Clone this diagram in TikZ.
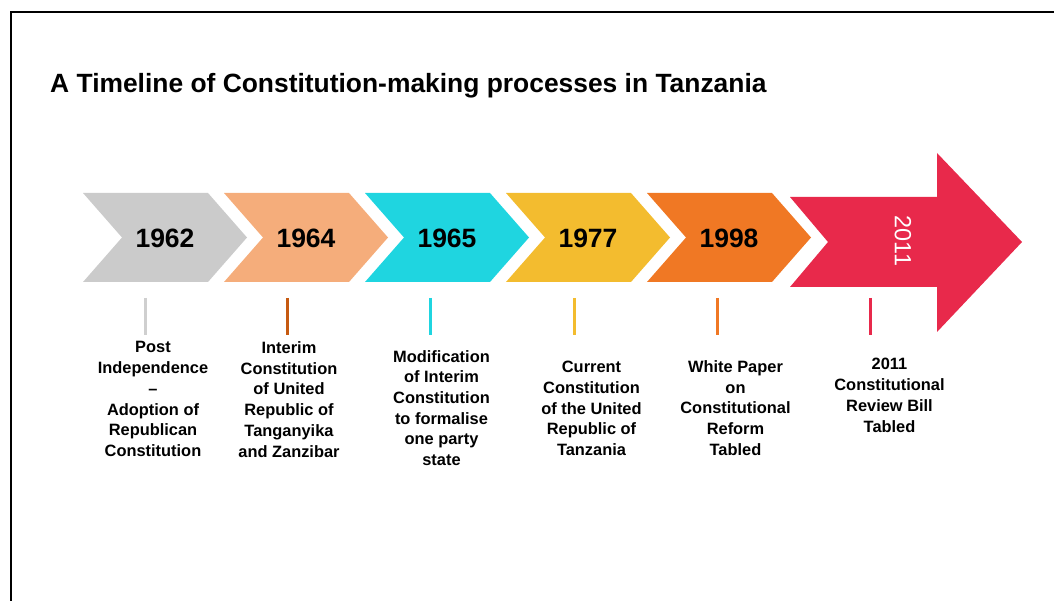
\documentclass[tikz,border=0pt]{standalone}
\usepackage{fontspec}
\setmainfont{Liberation Sans}
\definecolor{cgrey}{HTML}{CBCBCB}
\definecolor{cgreytick}{HTML}{CFCFCF}
\definecolor{cpeach}{HTML}{F5AD7B}
\definecolor{cpeachtick}{HTML}{C65A11}
\definecolor{ccyan}{HTML}{1FD5E0}
\definecolor{cyellow}{HTML}{F3BC2F}
\definecolor{corange}{HTML}{F07824}
\definecolor{cred}{HTML}{E8294B}
\begin{document}
\begin{tikzpicture}[x=1pt,y=-1pt,
    year/.style={inner sep=0pt, font=\bfseries\fontsize{26.5}{30}\selectfont},
    tick/.style={line width=3pt},
    event/.style={anchor=north, inner sep=0pt, align=center,
        font=\bfseries\fontsize{16.4}{20.7}\selectfont}]
        \useasboundingbox (0,0) rectangle (1054,601);

        % Frame
        \draw[line width=2pt] (11,601) -- (11,12) -- (1054,12);

        % Title
        \node[anchor=base west, inner sep=0pt, font=\bfseries\fontsize{26.4}{30}\selectfont]
            (title) at (50,93) {A Timeline of Constitution-making processes in Tanzania};

        % Chevrons
        \fill[cgrey] (83,193) -- ++(125,0) -- ++(39,44.5) -- ++(-39,44.5) -- ++(-125,0) -- ++(39,-44.5) -- cycle;
        \fill[cpeach] (224,193) -- ++(125,0) -- ++(39,44.5) -- ++(-39,44.5) -- ++(-125,0) -- ++(39,-44.5) -- cycle;
        \fill[ccyan] (365,193) -- ++(125,0) -- ++(39,44.5) -- ++(-39,44.5) -- ++(-125,0) -- ++(39,-44.5) -- cycle;
        \fill[cyellow] (506,193) -- ++(125,0) -- ++(39,44.5) -- ++(-39,44.5) -- ++(-125,0) -- ++(39,-44.5) -- cycle;
        \fill[corange] (647,193) -- ++(125,0) -- ++(39,44.5) -- ++(-39,44.5) -- ++(-125,0) -- ++(39,-44.5) -- cycle;

        % Big arrow
        \fill[cred] (790,197) -- (937,197) -- (937,153) -- (1022,242) -- (937,332)
            -- (937,287) -- (790,287) -- (828,242) -- cycle;

        % Years
        \node[year] (y1962) at (165,238.5) {1962};
        \node[year] (y1964) at (306,238.5) {1964};
        \node[year] (y1965) at (447,238.5) {1965};
        \node[year] (y1977) at (588,238.5) {1977};
        \node[year] (y1998) at (729,238.5) {1998};
        \node[inner sep=0pt, rotate=-90, white, font=\fontsize{23.4}{28}\selectfont]
            (y2011) at (903,241) {2011};

        % Ticks
        \draw[tick, cgreytick] (145,298) -- (145,335);
        \draw[tick, cpeachtick] (287.5,298) -- (287.5,335);
        \draw[tick, ccyan] (430.8,298) -- (430.8,335);
        \draw[tick, cyellow] (574.3,298) -- (574.3,335);
        \draw[tick, corange] (717.3,298) -- (717.3,335);
        \draw[tick, cred] (870,298) -- (870,335);

        % Events
        \node[event] (e1962) at (153,341.5) {Post\\Independence\\--\\Adoption of\\Republican\\Constitution};
        \node[event] (e1964) at (289,341.5) {Interim\\Constitution\\of United\\Republic of\\Tanganyika\\and Zanzibar};
        \node[event] (e1965) at (441.5,350) {Modification\\of Interim\\Constitution\\to formalise\\one party\\state};
        \node[event] (e1977) at (591.5,361) {Current\\Constitution\\of the United\\Republic of\\Tanzania};
        \node[event] (e1998) at (735.5,360.5) {White Paper\\on\\Constitutional\\Reform\\Tabled};
        \node[event] (e2011) at (889.5,358.3) {2011\\Constitutional\\Review Bill\\Tabled};

    \end{tikzpicture}
\end{document}
